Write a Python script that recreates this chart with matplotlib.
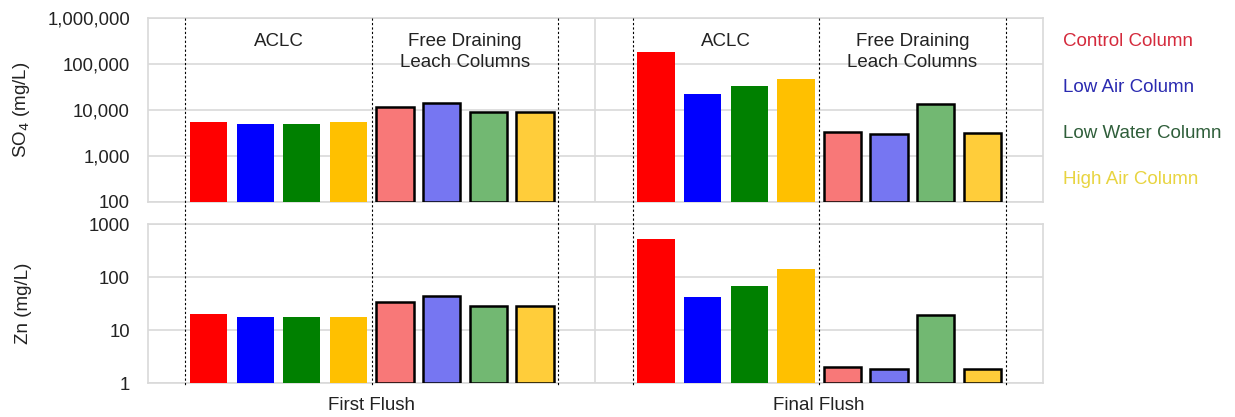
import matplotlib.pyplot as plt
import matplotlib.transforms as mtransforms
from matplotlib.ticker import FixedLocator, NullLocator

plt.rcParams['font.family'] = ['Liberation Sans', 'DejaVu Sans']

categories = ["First Flush", "Final Flush"]
groups = ["ACLC", "Free Draining\nLeach Columns"]
columns = ["Control Column", "Low Air Column", "Low Water Column", "High Air Column"]
colors = ["#ff0000", "#0000ff", "#008000", "#ffc000"]
light_colors = ["#f87878", "#7676f2", "#72b872", "#ffcd3a"]
label_colors = ["#d42a3c", "#2a2ab0", "#2f5e3a", "#e8d440"]

# per flush: 4 ACLC bars then 4 free-draining bars (same column order)
so4_first_flush = [5500, 4900, 4900, 5500, 11800, 14100, 9200, 9100]
so4_final_flush = [185000, 22000, 32700, 46500, 3270, 2950, 13300, 3100]
zn_first_flush = [19.7, 17.8, 17.8, 17.8, 33.7, 43.0, 28.4, 28.4]
zn_final_flush = [520, 42.5, 67, 144, 1.98, 1.87, 19.1, 1.87]

so4_ticks = [100, 1000, 10000, 100000, 1000000]
zn_ticks = [1, 10, 100, 1000]

cat_w = 9.6      # width of one flush category in bar units
pad = 0.8        # space before the first / after the last bar
bar_w = 0.8

fig = plt.figure(figsize=(12.35, 4.17), dpi=100)
ax_top = fig.add_axes([0.1198, 0.5156, 0.7247, 0.4412])
ax_bot = fig.add_axes([0.1198, 0.0815, 0.7247, 0.3813])

grid_c = "#d9d9d9"
text_c = "#222222"


def draw_panel(ax, series, floor, ticks, tick_fmt):
    ax.set_yscale("log")
    for k, vals in enumerate(series):
        for i, v in enumerate(vals):
            x = k * cat_w + pad + i + 0.5
            if i < 4:
                ax.bar(x, v - floor, bottom=floor, width=bar_w,
                       color=colors[i], edgecolor="none", zorder=3)
            else:
                ax.bar(x, v - floor, bottom=floor, width=bar_w,
                       facecolor=light_colors[i - 4], edgecolor="black",
                       linewidth=1.8, zorder=3)
    ax.set_xlim(0, 2 * cat_w)
    ax.set_ylim(ticks[0], ticks[-1])
    ax.yaxis.set_major_locator(FixedLocator(ticks))
    ax.yaxis.set_minor_locator(NullLocator())
    ax.set_yticklabels([tick_fmt(t) for t in ticks])
    ax.set_xticks([])
    ax.grid(axis="y", color=grid_c, linewidth=1.2, zorder=0)
    ax.axvline(cat_w, color=grid_c, linewidth=1.2, zorder=0)
    ax.tick_params(axis="y", length=0, labelsize=13.3, pad=13, colors=text_c)
    for s in ax.spines.values():
        s.set_color(grid_c)
        s.set_linewidth(1.2)
    ax.yaxis.set_label_coords(-0.129, 0.5)


draw_panel(ax_top, [so4_first_flush, so4_final_flush], 100, so4_ticks,
           lambda t: f"{t:,}")
draw_panel(ax_bot, [zn_first_flush, zn_final_flush], 1, zn_ticks,
           lambda t: f"{t}")

ax_top.set_ylabel("SO$_4$ (mg/L)", fontsize=13.5, color=text_c)
ax_bot.set_ylabel("Zn (mg/L)", fontsize=13.5, color=text_c)

# group captions and separators running through both panels
blend = mtransforms.blended_transform_factory(ax_top.transData, fig.transFigure)
top_blend = mtransforms.blended_transform_factory(ax_top.transData, ax_top.transAxes)
bot_blend = mtransforms.blended_transform_factory(ax_bot.transData, ax_bot.transAxes)
for k, cat in enumerate(categories):
    x0 = k * cat_w + pad
    for j, g in enumerate(groups):
        ax_top.text(x0 + 4 * j + 2, 0.87 if j == 0 else 0.815, g,
                    transform=top_blend, ha="center", va="center",
                    fontsize=13.5, linespacing=1.35, color=text_c, zorder=4)
    for xd in (x0, x0 + 4, x0 + 8):
        fig.add_artist(plt.Line2D([xd, xd], [0.9568, 0.076], transform=blend,
                                  color="black", linestyle=(0, (2, 2)),
                                  linewidth=0.8))
    ax_bot.text(k * cat_w + cat_w / 2, -0.14, cat, transform=bot_blend,
                ha="center", va="center", fontsize=13.5, color=text_c)

for i, (name, c) in enumerate(zip(columns, label_colors)):
    fig.text(0.861, 1 - (42 + 46 * i) / 417, name, color=c, fontsize=13.5,
             ha="left", va="center")

fig.savefig("out.png", dpi=100)
